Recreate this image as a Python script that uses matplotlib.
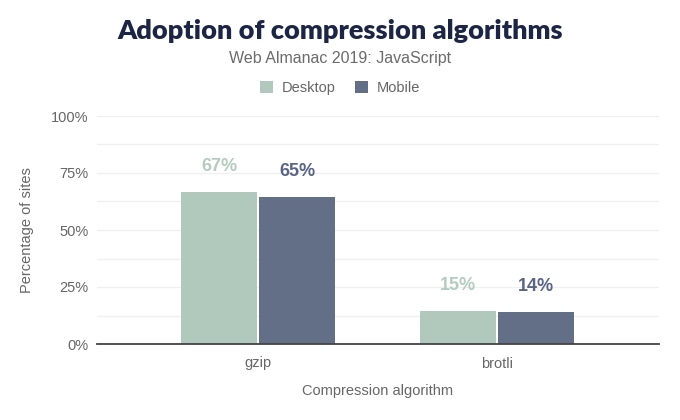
import matplotlib
matplotlib.use("Agg")
import matplotlib.pyplot as plt
import numpy as np

categories = ["gzip", "brotli"]
desktop = [66.8, 14.6]
mobile = [64.6, 13.9]
series_names = ["Desktop", "Mobile"]
yticks = [0, 25, 50, 75, 100]
ytick_labels = ["0%", "25%", "50%", "75%", "100%"]

c_desk = "#b1c9bc"
c_mob = "#636e87"
c_desk_lbl = "#b4ccc0"
c_mob_lbl = "#5a6484"

plt.rcParams['font.family'] = ['Liberation Sans', 'DejaVu Sans']

fig = plt.figure(figsize=(6.8, 4.2), dpi=100)
ax = fig.add_axes([97/680, 76/420, 562/680, 228/420])

x = np.arange(len(categories))
w = 0.318
off = 0.163
b1 = ax.bar(x - off, desktop, w, color=c_desk, zorder=3)
b2 = ax.bar(x + off, mobile, w, color=c_mob, zorder=3)

for rect, v in zip(b1, desktop):
    ax.annotate(f"{round(v)}%", (rect.get_x() + rect.get_width()/2, v),
                xytext=(0, 18.5), textcoords="offset points", ha="center", va="center",
                fontsize=13, fontweight="bold", color=c_desk_lbl)
for rect, v in zip(b2, mobile):
    ax.annotate(f"{round(v)}%", (rect.get_x() + rect.get_width()/2, v),
                xytext=(0, 18.5), textcoords="offset points", ha="center", va="center",
                fontsize=13, fontweight="bold", color=c_mob_lbl)

ax.set_xlim(-0.674, 1.678)
ax.set_ylim(0, 100)
ax.set_xticks(x)
ax.set_xticklabels(categories)
ax.set_yticks(yticks)
ax.set_yticklabels(ytick_labels)
ax.set_yticks(np.arange(12.5, 100, 25), minor=True)
ax.grid(axis="y", which="both", color="#f0f0f0", linewidth=1, zorder=0)
ax.tick_params(axis="both", which="both", length=0, colors="#666666", labelsize=10.5)
ax.tick_params(axis="x", pad=9)
ax.tick_params(axis="y", pad=6)
for s in ["top", "right", "left"]:
    ax.spines[s].set_visible(False)
ax.spines["bottom"].set_color("#444444")
ax.spines["bottom"].set_linewidth(1.3)
ax.spines["bottom"].set_zorder(4)

ax.set_ylabel("Percentage of sites", fontsize=10.5, color="#666666", labelpad=12)
ax.set_xlabel("Compression algorithm", fontsize=10.5, color="#666666", labelpad=10)

fig.text(340/680, 1 - 31/420, "Adoption of compression algorithms", ha="center", va="center",
         fontsize=19.5, fontweight="heavy", color="#1c2543",
         family=["Lato", "Liberation Sans", "DejaVu Sans"])
fig.text(340/680, 1 - 59/420, "Web Almanac 2019: JavaScript", ha="center", va="center",
         fontsize=11.5, color="#6b6b6b")

from matplotlib.patches import Patch
handles = [Patch(facecolor=c_desk, edgecolor="none"), Patch(facecolor=c_mob, edgecolor="none")]
leg = fig.legend(handles, series_names, loc="center", bbox_to_anchor=(340/680, 1 - 88/420),
                 ncol=2, frameon=False, fontsize=10.5, handlelength=0.9, handleheight=0.9,
                 handletextpad=0.6, columnspacing=1.3)
for t in leg.get_texts():
    t.set_color("#666666")

fig.savefig("out.png", dpi=100, facecolor="white")
